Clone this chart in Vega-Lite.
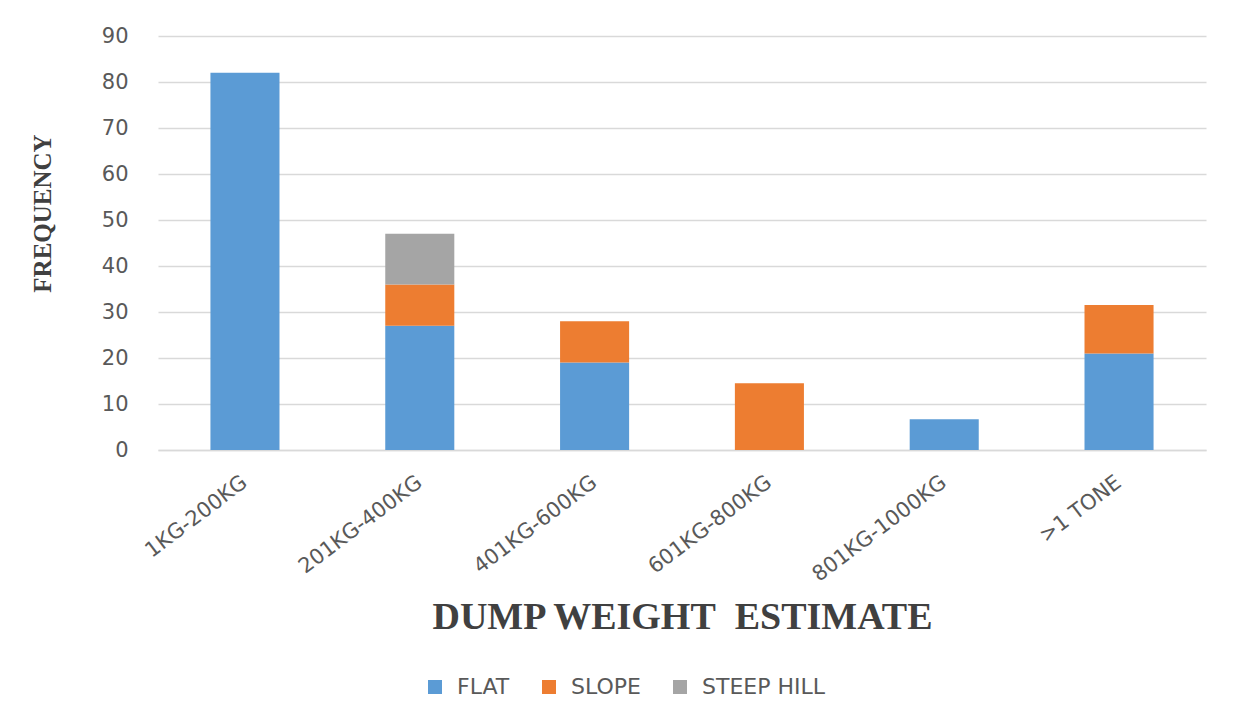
{
  "$schema": "https://vega.github.io/schema/vega-lite/v6.json",
  "autosize": {"type": "none"},
  "padding": {"left": 158, "top": 36, "right": 29, "bottom": 272},
  "width": 1048,
  "height": 414,
  "background": "white",
  "data": {
    "values": [
      {"weight": "1KG-200KG", "terrain": "FLAT", "frequency": 82, "k": 1},
      {"weight": "201KG-400KG", "terrain": "FLAT", "frequency": 27, "k": 1},
      {"weight": "201KG-400KG", "terrain": "SLOPE", "frequency": 9, "k": 2},
      {"weight": "201KG-400KG", "terrain": "STEEP HILL", "frequency": 11, "k": 3},
      {"weight": "401KG-600KG", "terrain": "FLAT", "frequency": 19, "k": 1},
      {"weight": "401KG-600KG", "terrain": "SLOPE", "frequency": 9, "k": 2},
      {"weight": "601KG-800KG", "terrain": "SLOPE", "frequency": 14.5, "k": 2},
      {"weight": "801KG-1000KG", "terrain": "FLAT", "frequency": 6.7, "k": 1},
      {"weight": ">1 TONE", "terrain": "FLAT", "frequency": 21, "k": 1},
      {"weight": ">1 TONE", "terrain": "SLOPE", "frequency": 10.5, "k": 2}
    ]
  },
  "mark": {"type": "bar", "stroke": null},
  "encoding": {
    "x": {
      "field": "weight",
      "type": "nominal",
      "sort": ["1KG-200KG", "201KG-400KG", "401KG-600KG", "601KG-800KG", "801KG-1000KG", ">1 TONE"],
      "scale": {"paddingInner": 0.605, "paddingOuter": 0.3},
      "axis": {
        "title": "DUMP WEIGHT\u00a0\u00a0ESTIMATE",
        "titleFont": "Liberation Serif",
        "titleFontWeight": "bold",
        "titleFontSize": 38,
        "titleColor": "#404040",
        "titleY": 167,
        "titleBaseline": "middle",
        "titleAlign": "center",
        "labelAngle": -37,
        "labelAlign": "right",
        "labelBaseline": "middle",
        "labelFont": "DejaVu Sans",
        "labelFontSize": 21,
        "labelColor": "#595959",
        "labelPadding": 30,
        "ticks": false,
        "domainColor": "#d9d9d9",
        "domainWidth": 1.5
      }
    },
    "y": {
      "field": "frequency",
      "type": "quantitative",
      "stack": "zero",
      "scale": {"domain": [0, 90], "nice": false},
      "axis": {
        "title": "FREQUENCY",
        "titleFont": "Liberation Serif",
        "titleFontWeight": "bold",
        "titleFontSize": 25,
        "titleColor": "#404040",
        "titleAngle": -90,
        "titleX": -116,
        "titleY": 177,
        "titleAlign": "center",
        "titleBaseline": "middle",
        "values": [0, 10, 20, 30, 40, 50, 60, 70, 80, 90],
        "labelFont": "DejaVu Sans",
        "labelFontSize": 21,
        "labelColor": "#595959",
        "labelPadding": 30,
        "ticks": false,
        "domain": false,
        "gridColor": "#d9d9d9",
        "gridWidth": 1.5
      }
    },
    "color": {
      "field": "terrain",
      "type": "nominal",
      "scale": {"domain": ["FLAT", "SLOPE", "STEEP HILL"], "range": ["#5B9BD5", "#ED7D31", "#A5A5A5"]},
      "legend": {
        "title": null,
        "orient": "none",
        "direction": "horizontal",
        "legendX": 266,
        "legendY": 640,
        "symbolType": "square",
        "symbolSize": 196,
        "symbolStrokeWidth": 0,
        "labelFont": "DejaVu Sans",
        "labelFontSize": 22,
        "labelColor": "#595959",
        "labelOffset": 11,
        "columnPadding": 28
      }
    },
    "order": {"field": "k", "type": "quantitative"}
  },
  "config": {"view": {"stroke": null}}
}
